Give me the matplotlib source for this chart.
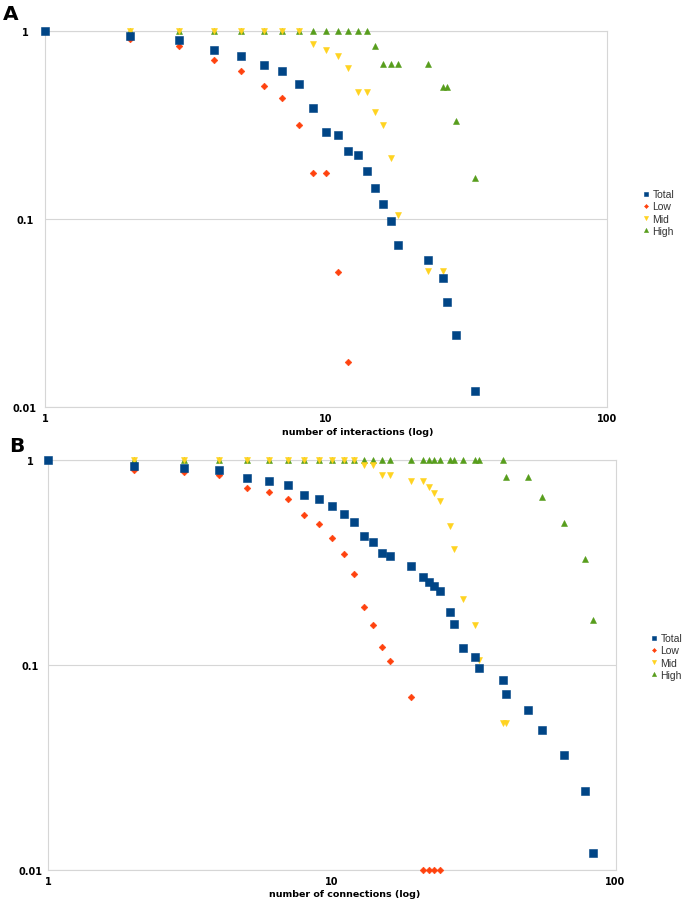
import matplotlib
matplotlib.use('Agg')
import matplotlib.pyplot as plt
from matplotlib.ticker import FixedLocator, FixedFormatter, NullLocator

# Panel A: cumulative fraction vs number of interactions
a_x_total = list(range(1, 19)) + [23, 26, 27, 29, 34]
a_total = [1.0, 0.94, 0.896, 0.792, 0.736, 0.659, 0.612, 0.523, 0.389, 0.290,
           0.280, 0.230, 0.219, 0.180, 0.146, 0.120, 0.0976, 0.0727,
           0.0605, 0.0486, 0.0362, 0.0242, 0.0122]
a_x_low = list(range(1, 13))
a_low = [1.0, 0.907, 0.835, 0.703, 0.615, 0.508, 0.440, 0.316, 0.176, 0.176, 0.0525, 0.0174]
a_x_mid = list(range(1, 19)) + [23, 26]
a_mid = [1, 1, 1, 1, 1, 1, 1, 1, 0.853, 0.795, 0.739, 0.634, 0.476, 0.476,
         0.370, 0.316, 0.211, 0.105, 0.0527, 0.0527]
a_x_high = list(range(1, 19)) + [23, 26, 27, 29, 34]
a_high = [1] * 14 + [0.829, 0.667, 0.667, 0.667, 0.667, 0.502, 0.502, 0.332, 0.166]

# Panel B: cumulative fraction vs number of connections
b_x_all = list(range(1, 17)) + [19, 21, 22, 23, 24, 26, 27, 29, 32, 33, 40, 41, 49, 55, 66, 78, 83]
b_total = [1.0, 0.938, 0.920, 0.900, 0.817, 0.793, 0.755, 0.679, 0.645, 0.597,
           0.545, 0.499, 0.426, 0.401, 0.353, 0.340,
           0.304, 0.269, 0.256, 0.243, 0.230, 0.182, 0.158, 0.121, 0.109, 0.097,
           0.0848, 0.0727, 0.0607, 0.0485, 0.0364, 0.0243, 0.0121]
b_x_low = list(range(1, 17)) + [19, 21, 22, 23, 24]
b_low = [1.0, 0.897, 0.874, 0.848, 0.733, 0.700, 0.645, 0.541, 0.489, 0.419,
         0.349, 0.279, 0.192, 0.157, 0.122, 0.105, 0.0698, 0.01, 0.01, 0.01, 0.01]
b_x_mid = list(range(1, 17)) + [19, 21, 22, 23, 24, 26, 27, 29, 32, 33, 40, 41]
b_mid = [1] * 12 + [0.949, 0.949, 0.848, 0.848, 0.790, 0.790, 0.738, 0.690, 0.633,
                    0.476, 0.369, 0.210, 0.157, 0.106, 0.0521, 0.0521]
b_high = [1] * 27 + [0.826, 0.826, 0.662, 0.496, 0.328, 0.166]

series_names = ['Total', 'Low', 'Mid', 'High']
colors = {'Total': '#004586', 'Low': '#ff420e', 'Mid': '#ffd320', 'High': '#579d1c'}
markers = {'Total': ('s', 5.3), 'Low': ('D', 3.4), 'Mid': ('v', 5.0), 'High': ('^', 5.0)}
zorders = {'Total': 6, 'Low': 5, 'Mid': 4, 'High': 3}

W, H = 685, 903
fig = plt.figure(figsize=(W / 100, H / 100), dpi=100)


def px_axes(left, top, right, bottom):
    return fig.add_axes([left / W, 1 - bottom / H, (right - left) / W, (bottom - top) / H])


def style(ax, xlabel, label_y, legend_xy, ylab_pad):
    ax.set_xscale('log')
    ax.set_yscale('log')
    ax.set_xlim(1, 100)
    ax.set_ylim(0.01, 1)
    ax.xaxis.set_major_locator(FixedLocator([1, 10, 100]))
    ax.xaxis.set_major_formatter(FixedFormatter(['1', '10', '100']))
    ax.yaxis.set_major_locator(FixedLocator([0.01, 0.1, 1]))
    ax.yaxis.set_major_formatter(FixedFormatter(['0.01', '0.1', '1']))
    ax.xaxis.set_minor_locator(NullLocator())
    ax.yaxis.set_minor_locator(NullLocator())
    ax.tick_params(length=0, labelsize=7)
    ax.tick_params(axis='y', pad=ylab_pad)
    ax.tick_params(axis='x', pad=4)
    for lab in ax.get_xticklabels():
        lab.set_fontweight('bold')
    for lab in ax.get_yticklabels():
        lab.set_fontweight('bold')
        lab.set_horizontalalignment('center')
    ax.yaxis.grid(True, color='#d6d6d6', linewidth=0.8)
    for s in ax.spines.values():
        s.set_color('#d6d6d6')
        s.set_linewidth(0.8)
    ax.set_axisbelow(True)
    fig.text(label_y[0] / W, 1 - label_y[1] / H, xlabel, fontsize=6.8, fontweight='bold',
             ha='center', va='center')
    handles, labels = ax.get_legend_handles_labels()
    order = [labels.index(n) for n in series_names]
    ax.legend([handles[i] for i in order], [labels[i] for i in order],
              loc='upper left', bbox_to_anchor=(legend_xy[0] / W, 1 - legend_xy[1] / H),
              bbox_transform=fig.transFigure, frameon=False, markerscale=0.6,
              handlelength=0.6, handletextpad=0.3, labelspacing=0.22, borderpad=0,
              prop={'family': 'Liberation Sans', 'size': 7.5}, labelcolor='#333333')


def draw(ax, data):
    for name in ['High', 'Mid', 'Low', 'Total']:
        xs, ys = data[name]
        m, ms = markers[name]
        ax.plot(xs, ys, linestyle='none', marker=m, markersize=ms, color=colors[name],
                markeredgewidth=0.4, markeredgecolor=colors[name], label=name,
                zorder=zorders[name], clip_on=False)


axA = px_axes(45, 32, 607, 408)
draw(axA, {'Total': (a_x_total, a_total), 'Low': (a_x_low, a_low),
           'Mid': (a_x_mid, a_mid), 'High': (a_x_high, a_high)})
style(axA, 'number of interactions (log)', (358, 433), (638, 185), 14.5)

axB = px_axes(48.3, 461.3, 615.5, 871)
draw(axB, {'Total': (b_x_all, b_total), 'Low': (b_x_low, b_low),
           'Mid': (b_x_mid, b_mid), 'High': (b_x_all, b_high)})
style(axB, 'number of connections (log)', (345, 895), (646, 629), 13)

fig.text(3 / W, 1 - 20 / H, 'A', fontsize=14.5, fontweight='bold', ha='left', va='baseline')
fig.text(9 / W, 1 - 451.7 / H, 'B', fontsize=14.5, fontweight='bold', ha='left', va='baseline')

fig.savefig('out.png', dpi=100, facecolor='white')
